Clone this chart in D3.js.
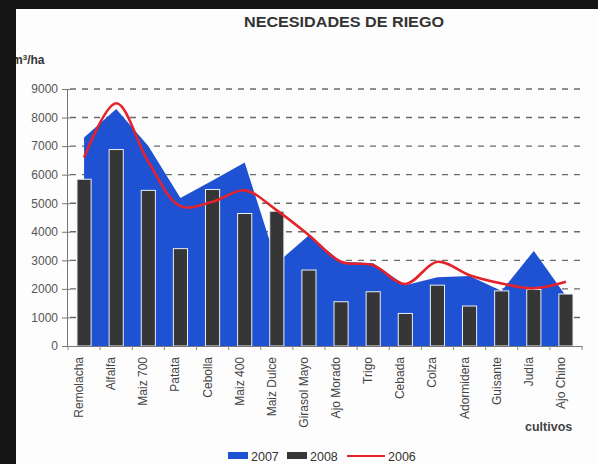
<!DOCTYPE html>
<html><head><meta charset="utf-8">
<script src="https://cdn.jsdelivr.net/npm/d3@7"></script>
<style>html,body{margin:0;padding:0;background:#fff;}svg{display:block;}</style>
</head><body>
<svg id="c" width="598" height="464"></svg>
<script>
const categories = ["Remolacha","Alfalfa","Maiz 700","Patata","Cebolla","Maiz 400","Maiz Dulce","Girasol Mayo","Ajo Morado","Trigo","Cebada","Colza","Adormidera","Guisante","Judía","Ajo Chino"];
const values2007 = [7300, 8300, 7000, 5180, 5800, 6430, 2900, 3880, 2950, 2900, 2130, 2410, 2450, 1930, 3330, 1750];
const values2008 = [5840, 6880, 5450, 3410, 5480, 4640, 4720, 2660, 1550, 1900, 1140, 2130, 1400, 1930, 1980, 1820];
const values2006 = [6600, 8500, 6450, 4900, 5050, 5450, 4750, 3880, 2950, 2830, 2170, 2950, 2480, 2190, 2020, 2250];
const yTicks = [0,1000,2000,3000,4000,5000,6000,7000,8000,9000];
const seriesNames = ["2007","2008","2006"];

const svg = d3.select("#c");
const font = "Arial, 'Liberation Sans', sans-serif";
svg.append("rect").attr("width",598).attr("height",464).attr("fill","#fdfdfd");

const x = d3.scaleBand().domain(categories).range([68,582]).padding(0);
const y = d3.scaleLinear().domain([0,9000]).range([346,89]);
const cx = c => x(c) + x.bandwidth()/2;

// grid
svg.append("g").selectAll("line").data(yTicks.filter(t=>t>0)).join("line")
  .attr("x1",70).attr("x2",582).attr("y1",d=>y(d)).attr("y2",d=>y(d))
  .attr("stroke","#6a6a6a").attr("stroke-width",1.4).attr("stroke-dasharray","6,6");

// area 2007
const area = d3.area().x((d,i)=>cx(categories[i])).y0(y(0)).y1(d=>y(d));
svg.append("path").datum(values2007).attr("d",area).attr("fill","#1f52d3");

// bars 2008
const bw = x.bandwidth()*0.44;
svg.append("g").selectAll("rect").data(values2008).join("rect")
  .attr("x",(d,i)=>cx(categories[i])-bw/2).attr("width",bw)
  .attr("y",d=>y(d)).attr("height",d=>y(0)-y(d))
  .attr("fill","#363636").attr("stroke","#e8eef8").attr("stroke-width",1);

// line 2006
const line = d3.line().x((d,i)=>cx(categories[i])).y(d=>y(d)).curve(d3.curveCatmullRom);
svg.append("path").datum(values2006).attr("d",line).attr("fill","none")
  .attr("stroke","#e3232c").attr("stroke-width",2.6);

// y axis
const ya = svg.append("g").attr("transform","translate(67,0)")
  .call(d3.axisLeft(y).tickValues(yTicks).tickSize(5).tickFormat(d3.format("d")));
ya.select(".domain").attr("stroke","#777");
ya.selectAll(".tick line").attr("stroke","#777").attr("x2",3).attr("x1",-5);
ya.selectAll(".tick text").attr("x",-9).attr("font-size",12).attr("font-family",font).attr("fill","#555");

// x axis
const xa = svg.append("g").attr("transform","translate(0,346)")
  .call(d3.axisBottom(x).tickSize(0).tickFormat(""));
xa.select(".domain").attr("stroke","#777");
xa.selectAll(".tick").remove();
svg.append("g").selectAll("line").data(categories.concat(["_end"])).join("line")
  .attr("x1",(d,i)=>68+i*x.bandwidth()).attr("x2",(d,i)=>68+i*x.bandwidth())
  .attr("y1",346).attr("y2",350).attr("stroke","#888");

svg.append("g").selectAll("text").data(categories).join("text")
  .attr("transform",d=>`translate(${cx(d)-1},357) rotate(-90)`)
  .attr("text-anchor","end").attr("font-size",12).attr("font-family",font).attr("fill","#444")
  .text(d=>d);

// titles
svg.append("text").attr("x",344).attr("y",27).attr("text-anchor","middle")
  .attr("font-size",14).attr("font-weight","bold").attr("font-family",font).attr("fill","#333")
  .attr("textLength",200).attr("lengthAdjust","spacingAndGlyphs").text("NECESIDADES DE RIEGO");
const yt = svg.append("text").attr("x",12).attr("y",64).attr("font-size",12).attr("font-weight","bold")
  .attr("font-family",font).attr("fill","#333");
yt.append("tspan").text("m");
yt.append("tspan").attr("dy",-4).attr("font-size",8).text("3");
yt.append("tspan").attr("dy",4).text("/ha");
svg.append("text").attr("x",525).attr("y",431).attr("font-size",12.5).attr("font-weight","bold")
  .attr("font-family",font).attr("fill","#444").text("cultivos");

// legend
const lg = svg.append("g").attr("font-family",font).attr("font-size",12.5).attr("fill","#333");
lg.append("rect").attr("x",228).attr("y",452).attr("width",20).attr("height",7).attr("fill","#1f52d3");
lg.append("text").attr("x",251).attr("y",461).text(seriesNames[0]);
lg.append("rect").attr("x",287).attr("y",452).attr("width",20).attr("height",7).attr("fill","#363636");
lg.append("text").attr("x",310).attr("y",461).text(seriesNames[1]);
lg.append("line").attr("x1",347).attr("x2",385).attr("y1",456).attr("y2",456).attr("stroke","#e3232c").attr("stroke-width",2);
lg.append("text").attr("x",388).attr("y",461).text(seriesNames[2]);

// photo border
svg.append("rect").attr("x",0).attr("y",0).attr("width",598).attr("height",9).attr("fill","#141414");
svg.append("rect").attr("x",0).attr("y",0).attr("width",16).attr("height",464).attr("fill","#141414");
</script>
</body></html>
